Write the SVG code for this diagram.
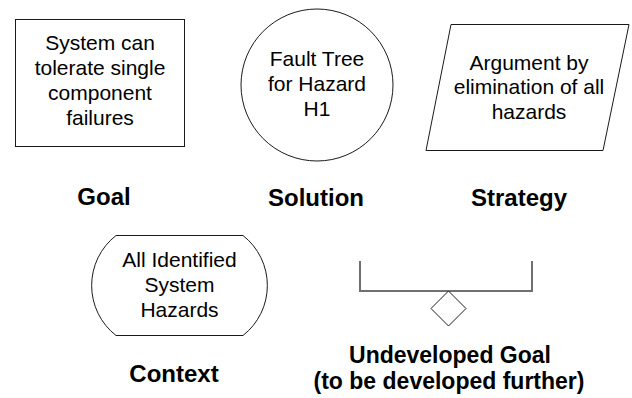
<svg xmlns="http://www.w3.org/2000/svg" width="632" height="398" viewBox="0 0 632 398">
  <style>
    .shape { fill: #ffffff; stroke: #1a1a1a; stroke-width: 1; }
    .body { font-family: "Liberation Sans", Arial, sans-serif; font-size: 21px; fill: #000; text-anchor: middle; }
    .label { font-family: "Liberation Sans", Arial, sans-serif; font-size: 24px; font-weight: bold; fill: #000; text-anchor: middle; }
    .label.tight { font-size: 23px; }
    .bracket { fill: none; stroke: #707070; stroke-width: 2; }
  </style>
  <rect width="632" height="398" fill="#ffffff"/>

  <!-- Goal -->
  <g id="goal">
    <rect class="shape" x="15.5" y="19.5" width="169" height="127"/>
    <text class="body" x="100" y="50">System can</text>
    <text class="body" x="100" y="75">tolerate single</text>
    <text class="body" x="100" y="100">component</text>
    <text class="body" x="100" y="125">failures</text>
    <text class="label" x="104" y="205">Goal</text>
  </g>

  <!-- Solution -->
  <g id="solution">
    <circle class="shape" cx="317" cy="85" r="76"/>
    <text class="body" x="317" y="66">Fault Tree</text>
    <text class="body" x="317" y="91">for Hazard</text>
    <text class="body" x="317" y="116">H1</text>
    <text class="label" x="316" y="206">Solution</text>
  </g>

  <!-- Strategy -->
  <g id="strategy">
    <polygon class="shape" points="451,24.5 629,24.5 603,150.5 426,150.5"/>
    <text class="body" x="529" y="70">Argument by</text>
    <text class="body" x="529" y="94">elimination of all</text>
    <text class="body" x="529" y="119">hazards</text>
    <text class="label" x="519" y="206">Strategy</text>
  </g>

  <!-- Context -->
  <g id="context">
    <path class="shape" d="M116,235.5 L243,235.5 A63.5,63.5 0 0 1 243,335.5 L116,335.5 A63.5,63.5 0 0 1 116,235.5 Z"/>
    <text class="body" x="179.5" y="267">All Identified</text>
    <text class="body" x="179.5" y="292">System</text>
    <text class="body" x="179.5" y="317">Hazards</text>
    <text class="label" x="174" y="382">Context</text>
  </g>

  <!-- Undeveloped goal -->
  <g id="undeveloped">
    <path class="bracket" d="M360,261 L360,291 L532,291 L532,261"/>
    <polygon class="shape" points="448.5,291 466,308.5 448.5,326 431,308.5"/>
    <text class="label tight" x="450" y="363">Undeveloped Goal</text>
    <text class="label tight" x="449" y="389">(to be developed further)</text>
  </g>

  <g id="connectors"></g>
</svg>
